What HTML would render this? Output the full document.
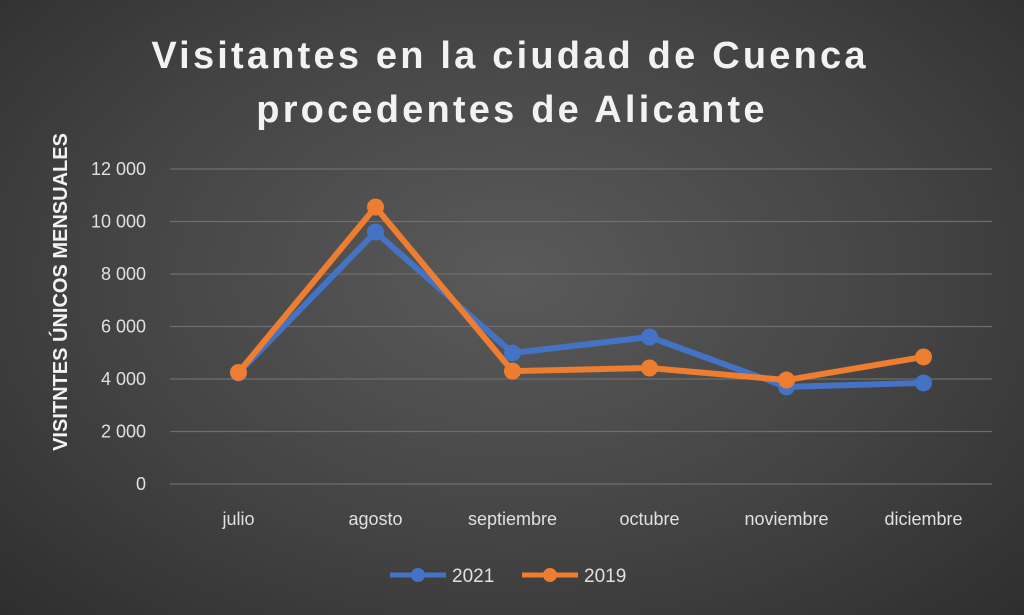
<!DOCTYPE html>
<html><head><meta charset="utf-8"><style>
html,body{margin:0;padding:0;width:1024px;height:615px;overflow:hidden;}
body{background:radial-gradient(ellipse at 50% 45%,#5a5a5a 0%,#444 55%,#2e2e2e 100%);font-family:"Liberation Sans",sans-serif;}
</style></head><body>
<svg id="chart" width="1024" height="615" xmlns="http://www.w3.org/2000/svg">
<text x="510" y="68" text-anchor="middle" fill="#f2f2f2" font-size="38" font-weight="bold" letter-spacing="3.2" font-family="Liberation Sans, sans-serif">Visitantes en la ciudad de Cuenca</text>
<text x="512" y="122" text-anchor="middle" fill="#f2f2f2" font-size="38" font-weight="bold" letter-spacing="3.2" font-family="Liberation Sans, sans-serif">procedentes de Alicante</text>
<text transform="translate(67,292) rotate(-90)" text-anchor="middle" fill="#f2f2f2" font-size="20" font-weight="bold">VISITNTES ÚNICOS MENSUALES</text>
<g id="grid"></g><g id="ylabels"></g><g id="xlabels"></g><g id="series"></g>
<g>
<line x1="390" y1="575" x2="446" y2="575" stroke="#4472c4" stroke-width="5"/><circle cx="418" cy="575" r="7" fill="#4472c4"/>
<text x="452" y="582" fill="#e0e0e0" font-size="19">2021</text>
<line x1="522" y1="575" x2="578" y2="575" stroke="#ed7d31" stroke-width="5"/><circle cx="550" cy="575" r="7" fill="#ed7d31"/>
<text x="584" y="582" fill="#e0e0e0" font-size="19">2019</text>
</g>
</svg>
<script>
const categories=["julio","agosto","septiembre","octubre","noviembre","diciembre"];
const values2021=[4230,9600,4990,5600,3700,3850];
const values2019=[4250,10550,4300,4420,3960,4840];
const yTicks=[0,2000,4000,6000,8000,10000,12000];
const yTickLabels=["0","2 000","4 000","6 000","8 000","10 000","12 000"];
const NS="http://www.w3.org/2000/svg";
const x0=170,x1=992,y0=484,y1=169,yMax=12000;
const step=(x1-x0)/categories.length;
const xs=i=>x0+step*(i+0.5);
const ys=v=>y0-(v/yMax)*(y0-y1);
function mk(tag,attrs,parent){const e=document.createElementNS(NS,tag);for(const k in attrs)e.setAttribute(k,attrs[k]);parent.appendChild(e);return e;}
const grid=document.getElementById('grid'),yl=document.getElementById('ylabels'),xl=document.getElementById('xlabels'),sr=document.getElementById('series');
yTicks.forEach((t,i)=>{
 const l=mk('line',{x1:x0,x2:x1,y1:ys(t),y2:ys(t),stroke:'#6e6e6e','stroke-width':1.3},grid);
 
 
 const tx=mk('text',{x:146,y:ys(t)+6,'text-anchor':'end',fill:'#e0e0e0','font-size':18},yl);
 tx.textContent=yTickLabels[i];
 
 
});
categories.forEach((c,i)=>{
 const tx=mk('text',{x:xs(i),y:525,'text-anchor':'middle',fill:'#e0e0e0','font-size':18},xl);
 tx.textContent=c;
 
 
});
function series(vals,color,name){
 const g=mk('g',{},sr);
 
 
 mk('polyline',{points:vals.map((v,i)=>xs(i)+','+ys(v)).join(' '),fill:'none',stroke:color,'stroke-width':6,'stroke-linejoin':'round'},g);
 vals.forEach((v,i)=>{
  const c=mk('circle',{cx:xs(i),cy:ys(v),r:8.5,fill:color},g);
  
  
 });
}
series(values2021,'#4472c4','series-2021');
series(values2019,'#ed7d31','series-2019');
</script>
</body></html>
